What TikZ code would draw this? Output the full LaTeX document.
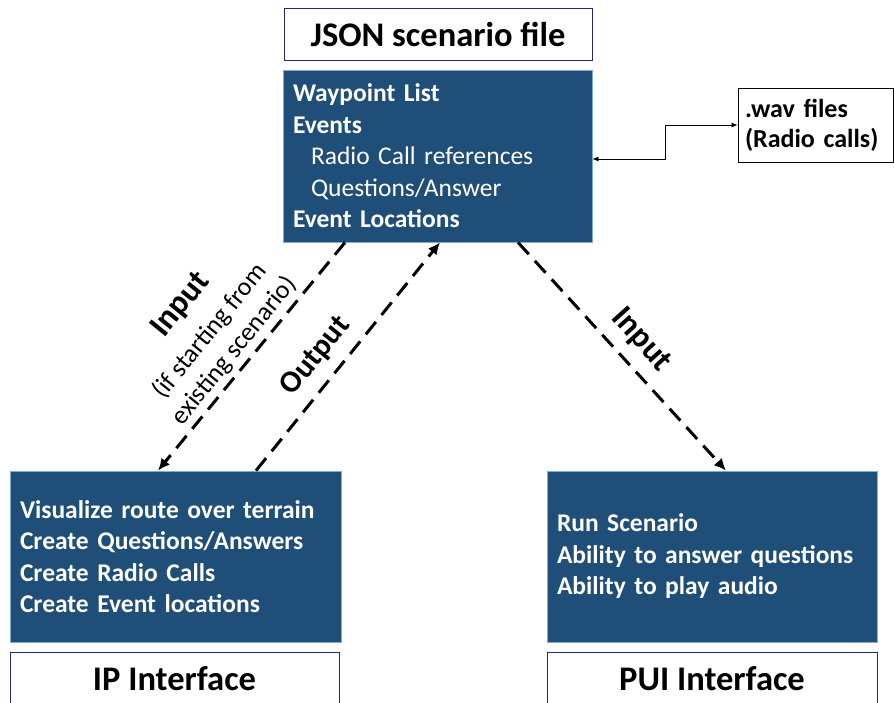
\documentclass[tikz,border=0pt]{standalone}
\usepackage{fontspec}
\setmainfont{Carlito}
\usetikzlibrary{arrows.meta}
\definecolor{boxblue}{RGB}{31,78,121}
\definecolor{boxedge}{RGB}{130,170,210}
\definecolor{titleedge}{RGB}{40,40,110}
\tikzset{
  darkbox/.style={fill=boxblue,draw=boxedge,line width=0.8pt,text=white,align=left,
    inner xsep=10pt,inner ysep=0pt,font=\fontsize{25.5}{31.5}\selectfont\bfseries},
  titlebox/.style={draw=titleedge,line width=0.8pt,fill=white,
    font=\fontsize{34.5}{40}\selectfont\bfseries},
  flow/.style={line width=3pt,dash pattern=on 16pt off 9pt,-{Latex[length=12pt,width=11pt]}},
  wire/.style={line width=0.8pt,{Latex[length=6pt,width=5pt]}-{Latex[length=6pt,width=5pt]}},
  flowlabel/.style={font=\fontsize{33}{36}\selectfont\bfseries},
  notelabel/.style={font=\fontsize{26}{31}\selectfont,align=center},
}
\begin{document}
\begin{tikzpicture}[x=1pt,y=-1pt]
  \useasboundingbox (0,0) rectangle (894,702);
  %JSON file
  \node[titlebox,minimum width=308pt,minimum height=52pt] (jsontitle) at (438,34) {JSON scenario file};
  \node[darkbox,text width=289pt,minimum height=172pt] (jsonbox) at (437.5,156)
    {Waypoint List\\ Events\\ {\mdseries\hspace*{18pt}Radio Call references}\\
     {\mdseries\hspace*{18pt}Questions/Answer}\\ Event Locations};
  %wav files
  \node[draw,line width=0.8pt,align=left,text width=141pt,inner xsep=7pt,minimum height=74pt,
    font=\fontsize{26}{30}\selectfont\bfseries] (wav) at (815.5,125) {.wav files\\ (Radio calls)};
  \draw[wire] (wav.west) -- ++(-72,0) |- ([yshift=-3pt]jsonbox.east);
  %IP
  \node[darkbox,text width=311pt,minimum height=171pt] (ipbox) at (175.5,556.5)
    {Visualize route over terrain\\ Create Questions/Answers\\ Create Radio Calls\\ Create Event locations};
  \node[titlebox,minimum width=329pt,minimum height=54pt] (iptitle) at (174.5,679) {IP Interface};
  %PUI
  \node[darkbox,text width=310pt,minimum height=171pt] (puibox) at (712,556.5)
    {Run Scenario\\ Ability to answer questions\\ Ability to play audio};
  \node[titlebox,minimum width=330pt,minimum height=54pt] (puititle) at (712,679) {PUI Interface};
  %arrows
  \draw[flow] ([xshift=-92.5pt]jsonbox.south) -- ([xshift=-17.5pt]ipbox.north);
  \draw[flow] ([xshift=80.5pt]ipbox.north) -- ([xshift=2.5pt]jsonbox.south);
  \draw[flow] ([xshift=80.5pt]jsonbox.south) -- ([xshift=14pt]puibox.north);
  %labels
  \node[flowlabel,rotate=51] (inleft) at (181,305) {Input};
  \node[notelabel,rotate=51] (inleftnote) at (222,341) {(if starting from\\ existing scenario)};
  \node[flowlabel,font=\fontsize{31}{34}\selectfont\bfseries,rotate=51] (outleft) at (316,356) {Output};
  \node[flowlabel,rotate=-48] (inright) at (641,340) {Input};
\end{tikzpicture}
\end{document}
